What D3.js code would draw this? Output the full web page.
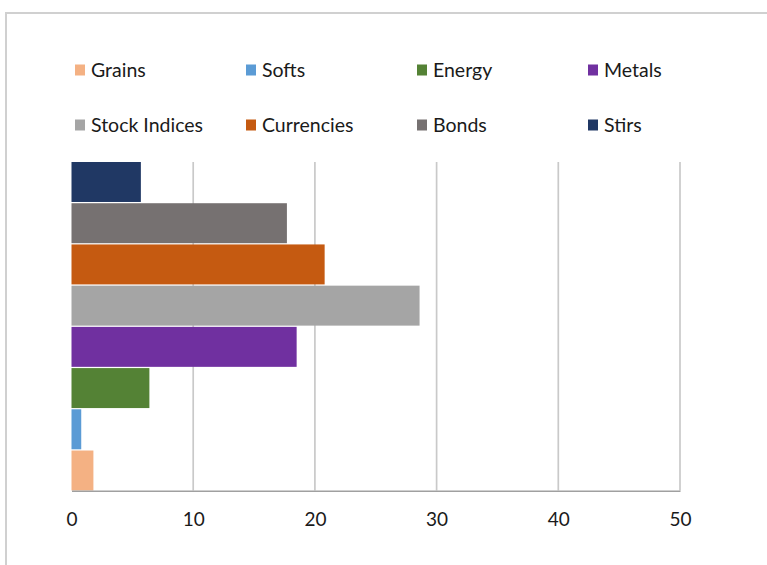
<!DOCTYPE html>
<html>
<head>
<meta charset="utf-8">
<script src="https://cdn.jsdelivr.net/npm/d3@7"></script>
<style>
  body { margin: 0; background: #fff; }
  text { font-family: Lato, "Open Sans", sans-serif; fill: #1a1a1a; }
</style>
</head>
<body>
<div id="chart"></div>
<script>
// sectors, top to bottom as drawn
var sectors = ['Stirs', 'Bonds', 'Currencies', 'Stock Indices', 'Metals', 'Energy', 'Softs', 'Grains'];
var shares = [5.7, 17.7, 20.8, 28.6, 18.5, 6.4, 0.8, 1.8];
// legend order
var legendNames = ['Grains', 'Softs', 'Energy', 'Metals', 'Stock Indices', 'Currencies', 'Bonds', 'Stirs'];
var xTicks = [0, 10, 20, 30, 40, 50];

var colors = {
    'Grains': '#f4b183',
    'Softs': '#5b9bd5',
    'Energy': '#548235',
    'Metals': '#7030a0',
    'Stock Indices': '#a5a5a5',
    'Currencies': '#c55a11',
    'Bonds': '#767171',
    'Stirs': '#203864'
};

var svgWidth = 767;
var svgHeight = 565;

var svg = d3.select('#chart')
    .append('svg')
    .attr('width', svgWidth)
    .attr('height', svgHeight);

// chart frame (top + left edge only visible)
svg.append('path')
    .attr('d', 'M6,565 V13 H767')
    .attr('fill', 'none')
    .attr('stroke', '#d0d0d0')
    .attr('stroke-width', 2);

var x = d3.scaleLinear()
    .domain([0, 50])
    .range([71.5, 680]);

var y = d3.scaleBand()
    .domain(sectors)
    .range([162, 490.5])
    .paddingInner(0.03);

// gridlines
svg.append('g')
    .selectAll('line')
    .data(xTicks.slice(1))
    .enter()
    .append('line')
    .attr('x1', d => x(d))
    .attr('x2', d => x(d))
    .attr('y1', 162)
    .attr('y2', 490.5)
    .attr('stroke', '#c9c9c9')
    .attr('stroke-width', 1.7);

// bars
svg.append('g')
    .selectAll('rect')
    .data(sectors)
    .enter()
    .append('rect')
    .attr('x', x(0))
    .attr('y', d => y(d))
    .attr('width', (d, i) => x(shares[i]) - x(0))
    .attr('height', y.bandwidth())
    .attr('fill', d => colors[d]);

// x axis
var bottomAxis = d3.axisBottom(x)
    .tickValues(xTicks)
    .tickSize(0)
    .tickPadding(22);

var axisG = svg.append('g')
    .attr('transform', 'translate(0, 490.7)')
    .call(bottomAxis);
axisG.select('.domain')
    .attr('stroke', '#a0a0a0')
    .attr('stroke-width', 1.5);
axisG.selectAll('text')
    .style('font-size', '19px')
    .attr('fill', '#1a1a1a');

// legend
var legend = svg.append('g')
    .selectAll('g')
    .data(legendNames)
    .enter()
    .append('g')
    .attr('transform', (d, i) => `translate(${75 + (i % 4) * 171}, ${i < 4 ? 70 : 125})`);

legend.append('rect')
    .attr('x', 0)
    .attr('y', -5.5)
    .attr('width', 10)
    .attr('height', 11)
    .attr('fill', d => colors[d]);

legend.append('text')
    .attr('x', 16)
    .attr('y', 0)
    .attr('dy', '0.35em')
    .style('font-size', '19.5px')
    .text(d => d);
</script>
</body>
</html>
